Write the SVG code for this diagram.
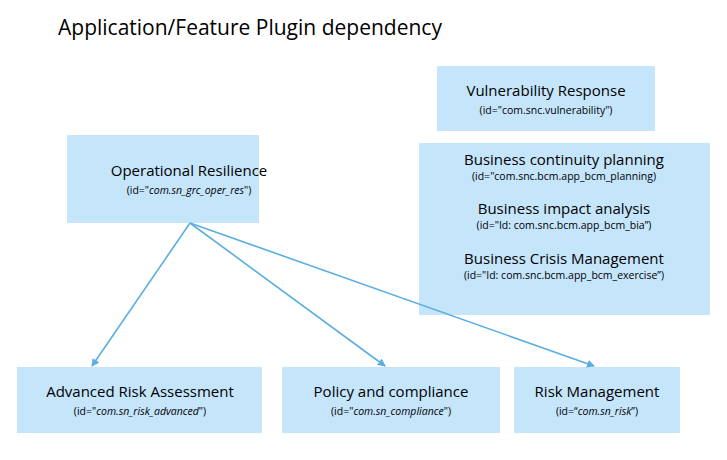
<svg xmlns="http://www.w3.org/2000/svg" width="727" height="460" viewBox="0 0 727 460">
<style>
.b{fill:#c5e5fb}
.t{font-family:"Open Sans","Liberation Sans",sans-serif;font-size:15px;fill:#000;text-anchor:middle}
.s{font-family:"Open Sans","Liberation Sans",sans-serif;font-size:10.5px;fill:#000;text-anchor:middle}
.i{font-style:italic}
.c{stroke:#5aaee0;stroke-width:1.6;fill:none;marker-end:url(#a)}
</style>
<defs><marker id="a" markerWidth="8" markerHeight="8" refX="7" refY="4" orient="auto" markerUnits="userSpaceOnUse"><path d="M0,0 L8,4 L0,8 Z" fill="#5aaee0"/></marker></defs>
<rect width="727" height="460" fill="#fff"/>
<text x="58" y="35" font-family="'Open Sans','Liberation Sans',sans-serif" font-size="21">Application/Feature Plugin dependency</text>
<g id="vuln"><rect class="b" x="437" y="66" width="218" height="65"/><text class="t" x="546" y="96">Vulnerability Response</text><text class="s" x="546" y="114">(id="com.snc.vulnerability")</text></g>
<g id="bcm"><rect class="b" x="419" y="143" width="291" height="172"/>
<text class="t" x="564" y="165">Business continuity planning</text><text class="s" x="564" y="180">(id="com.snc.bcm.app_bcm_planning)</text>
<text class="t" x="564" y="214">Business impact analysis</text><text class="s" x="564" y="229">(id="Id: com.snc.bcm.app_bcm_bia”)</text>
<text class="t" x="564" y="264">Business Crisis Management</text><text class="s" x="564" y="279">(id="Id: com.snc.bcm.app_bcm_exercise”)</text></g>
<g id="oper"><rect class="b" x="67" y="135" width="192" height="88"/><text class="t" x="189" y="176">Operational Resilience</text><text class="s" x="189" y="194">(id="<tspan class="i">com.sn_grc_oper_res</tspan>")</text></g>
<g id="adv"><rect class="b" x="17" y="367" width="245" height="66"/><text class="t" x="140" y="397">Advanced Risk Assessment</text><text class="s" x="140" y="415">(id="<tspan class="i">com.sn_risk_advanced</tspan>")</text></g>
<g id="pol"><rect class="b" x="282" y="367" width="218" height="66"/><text class="t" x="391" y="397">Policy and compliance</text><text class="s" x="391" y="415">(id="<tspan class="i">com.sn_compliance</tspan>")</text></g>
<g id="risk"><rect class="b" x="514" y="367" width="166" height="66"/><text class="t" x="597" y="397">Risk Management</text><text class="s" x="597" y="415">(id=“<tspan class="i">com.sn_risk</tspan>”)</text></g>
<g id="connectors">
<line class="c" x1="190" y1="223" x2="92" y2="366"/>
<line class="c" x1="190" y1="223" x2="385" y2="366"/>
<line class="c" x1="190" y1="223" x2="594" y2="366"/>
</g>
</svg>
